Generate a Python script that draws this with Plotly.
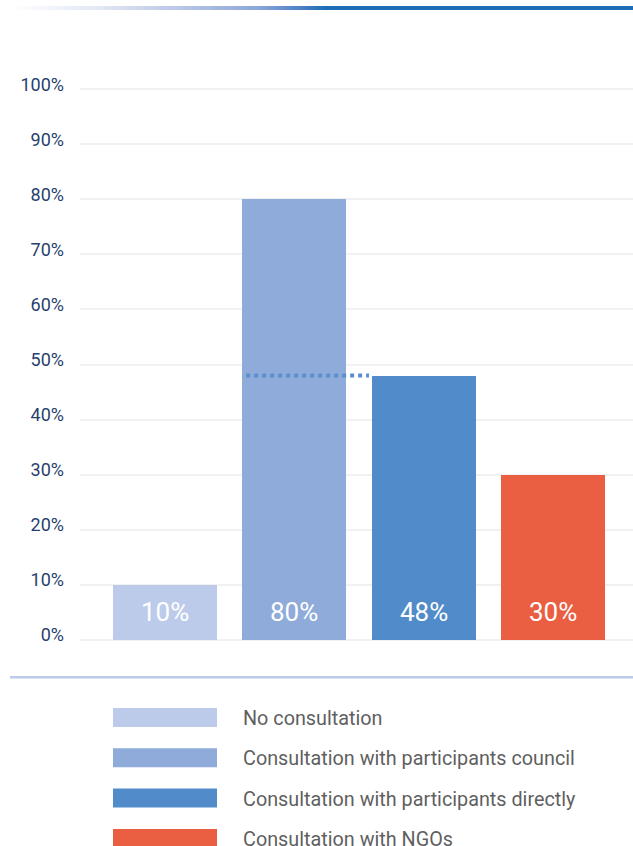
import plotly.graph_objects as go

# ---- data ----
categories = ["No consultation", "Consultation with participants council",
              "Consultation with participants directly", "Consultation with NGOs"]
values = [10, 80, 48, 30]
value_labels = ["10%", "80%", "48%", "30%"]
colors = ["#bdcbeb", "#8eabd9", "#518bca", "#ea5e42"]
tick_vals = [0, 10, 20, 30, 40, 50, 60, 70, 80, 90, 100]
tick_text = ["0%", "10%", "20%", "30%", "40%", "50%", "60%", "70%", "80%", "90%", "100%"]

# ---- geometry (pixels) ----
W, H = 633, 846
ML, MR, MT, MB = 80, 0, 81, 198
PW, PH = W - ML - MR, H - MT - MB
BAR_W = 0.804
X_RANGE = [-0.657, 3.62]
Y_RANGE = [-1.5, 101.5]


def px_x(px):
    return (px - ML) / PW


def px_y(py):
    return (H - MB - py) / PH


xs = list(range(len(categories)))

fig = go.Figure()
for i, (cat, v, c) in enumerate(zip(categories, values, colors)):
    fig.add_trace(go.Bar(x=[xs[i]], y=[v], name=cat, marker=dict(color=c, line=dict(width=0)),
                         width=BAR_W, hoverinfo="skip", showlegend=False))

# dotted reference line from bar 2 to bar 3 at bar 3's level
fig.add_trace(go.Scatter(
    x=[xs[1] - BAR_W / 2 + 0.03, xs[2] - BAR_W / 2 - 0.02],
    y=[values[2], values[2]], mode="lines",
    line=dict(color="#5a8fcd", width=4, dash="4px,4px"),
    hoverinfo="skip", showlegend=False))

annotations = []
LABEL_Y = 5
for i, lab in enumerate(value_labels):
    annotations.append(dict(x=xs[i], y=LABEL_Y, xref="x", yref="y", text=lab, showarrow=False,
                            font=dict(family="Roboto", size=26, color="white"),
                            xanchor="center", yanchor="middle"))

shapes = []


def hex2rgb(h):
    h = h.lstrip("#")
    return tuple(int(h[i:i + 2], 16) for i in (0, 2, 4))


# top gradient line
stops = [(10, "#ffffff"), (100, "#e2e7f4"), (200, "#aebfe2"), (260, "#89a6d7"),
         (300, "#4f80c4"), (325, "#1f6db5")]
seg = 4
px0 = 10
while px0 < 325:
    px1 = min(px0 + seg, 325)
    mid = (px0 + px1) / 2
    col = "#ffffff"
    for j in range(len(stops) - 1):
        a, ca = stops[j]
        b, cb = stops[j + 1]
        if a <= mid <= b:
            t = (mid - a) / (b - a)
            ra, rb = hex2rgb(ca), hex2rgb(cb)
            col = "rgb(%d,%d,%d)" % tuple(round(ra[k] + (rb[k] - ra[k]) * t) for k in range(3))
            break
    shapes.append(dict(type="rect", xref="paper", yref="paper", x0=px_x(px0), x1=px_x(px1 + 0.5),
                       y0=px_y(10), y1=px_y(6), fillcolor=col, line=dict(width=0), layer="above"))
    px0 = px1
shapes.append(dict(type="rect", xref="paper", yref="paper", x0=px_x(325), x1=px_x(W),
                   y0=px_y(10), y1=px_y(6), fillcolor="#1f6db5", line=dict(width=0)))

# separator line
shapes.append(dict(type="rect", xref="paper", yref="paper", x0=px_x(10), x1=px_x(W),
                   y0=px_y(678.5), y1=px_y(676), fillcolor="#bccbea", line=dict(width=0)))

# manual legend
for i, (cat, c) in enumerate(zip(categories, colors)):
    top = 708 + i * 40.3
    shapes.append(dict(type="rect", xref="paper", yref="paper", x0=px_x(113), x1=px_x(217),
                       y0=px_y(top + 19), y1=px_y(top), fillcolor=c, line=dict(width=0)))
    annotations.append(dict(x=px_x(241), y=px_y(top + 10.5), xref="paper", yref="paper", text=cat,
                            showarrow=False, xanchor="left", yanchor="middle",
                            font=dict(family="Roboto", size=19.8, color="#5f5f5f")))

fig.update_layout(
    width=W, height=H,
    margin=dict(l=ML, r=MR, t=MT, b=MB, autoexpand=False),
    paper_bgcolor="white", plot_bgcolor="white",
    showlegend=False,
    bargap=0,
    shapes=shapes, annotations=annotations,
    xaxis=dict(range=X_RANGE, showticklabels=False, showgrid=False, zeroline=False,
               showline=False, fixedrange=True),
    yaxis=dict(range=Y_RANGE, tickvals=tick_vals, ticktext=tick_text, showgrid=True,
               gridcolor="#f1f1f1", gridwidth=2, zeroline=False, showline=False,
               ticks="", ticklabelstandoff=15, ticklabelshift=-5,
               tickfont=dict(family="Roboto", size=18, color="#273f6d"), fixedrange=True),
)

fig.write_html("out.html", config={"displayModeBar": False},
               post_script="document.body.style.margin='0';document.body.style.overflow='hidden';")
